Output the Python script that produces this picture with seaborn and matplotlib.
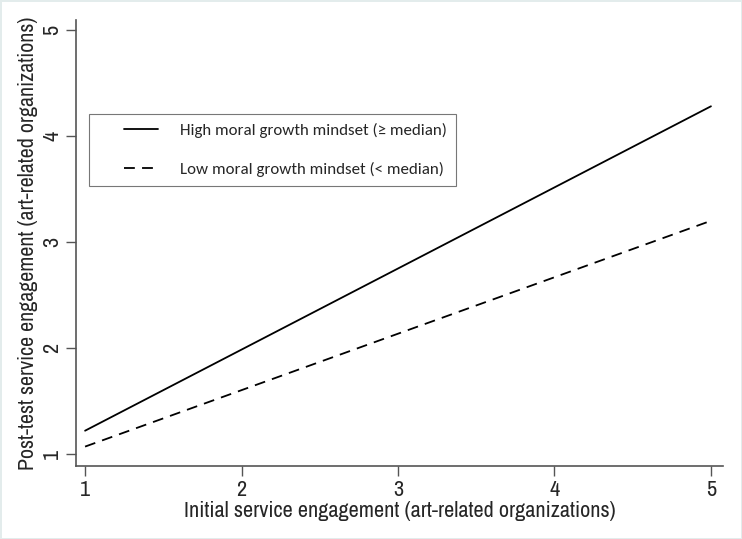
import matplotlib
matplotlib.use("Agg")
import matplotlib.pyplot as plt
from matplotlib.lines import Line2D
from matplotlib.legend_handler import HandlerLine2D
import numpy as np
import seaborn as sns
import pandas as pd

x_vals = [1, 5]
high_vals = [1.22, 4.28]
low_vals = [1.07, 3.20]
group_labels = ["High moral growth mindset (\u2265 median)", "Low moral growth mindset (< median)"]
x_ticks = [1, 2, 3, 4, 5]
y_ticks = [1, 2, 3, 4, 5]

df = pd.DataFrame({
    "x": x_vals * 2,
    "y": high_vals + low_vals,
    "group": [group_labels[0]] * 2 + [group_labels[1]] * 2,
})

sns.set_style("ticks")
plt.rcParams['font.family'] = ['Archivo Narrow', 'DejaVu Sans']

fig = plt.figure(figsize=(7.42, 5.39), dpi=100)
ax = fig.add_axes([76/742, 1 - 466/539, (723-76)/742, (466-20)/539])

sns.lineplot(data=df, x="x", y="y", hue="group", style="group",
             palette=["black", "black"], dashes=[(None, None), (6, 4)],
             linewidth=1.3, ax=ax, legend=False)

ax.set_xlim(0.942, 5.077)
ax.set_ylim(0.887, 5.094)
ax.set_xticks(x_ticks)
ax.set_yticks(y_ticks)
ax.set_xticklabels([str(t) for t in x_ticks], fontsize=16)
ax.set_yticklabels([str(t) for t in y_ticks], fontsize=16, rotation=90, va="center")
ax.tick_params(axis="both", length=7, width=1, color="#555555", direction="out", pad=3)
ax.set_xlabel("Initial service engagement (art-related organizations)", fontsize=16, labelpad=1)
ax.set_ylabel("Post-test service engagement (art-related organizations)", fontsize=15.8, labelpad=3)
for s in ["top", "right"]:
    ax.spines[s].set_visible(False)
for s in ["left", "bottom"]:
    ax.spines[s].set_color("#555555")
    ax.spines[s].set_linewidth(1.2)


class RightHandler(HandlerLine2D):
    frac = 0.57

    def create_artists(self, legend, orig_handle, xdescent, ydescent,
                       width, height, fontsize, trans):
        arts = super().create_artists(legend, orig_handle, xdescent, ydescent,
                                      width, height, fontsize, trans)
        for a in arts:
            xd = np.asarray(a.get_xdata(), dtype=float)
            if len(xd) >= 2:
                a.set_xdata(np.linspace(xd[-1] - (xd[-1] - xd[0]) * self.frac, xd[-1], len(xd)))
        return arts


handles = [Line2D([], [], color="black", lw=1.3),
           Line2D([], [], color="black", lw=1.3, dashes=(6, 4))]
leg = ax.legend(handles, group_labels, loc="upper left",
                bbox_to_anchor=((89-76)/647, (466-114)/446),
                frameon=True, fancybox=False, framealpha=1,
                prop={"family": ["Carlito", "DejaVu Sans"], "size": 12.2},
                handlelength=3.6, labelspacing=1.45, borderpad=0.5,
                handletextpad=1.3, borderaxespad=0,
                handler_map={Line2D: RightHandler()})
leg.get_frame().set_edgecolor("#777777")
leg.get_frame().set_linewidth(0.8)

fig.patch.set_edgecolor("#e3ecec")
fig.patch.set_linewidth(2)
fig.savefig("out.png", dpi=100)
